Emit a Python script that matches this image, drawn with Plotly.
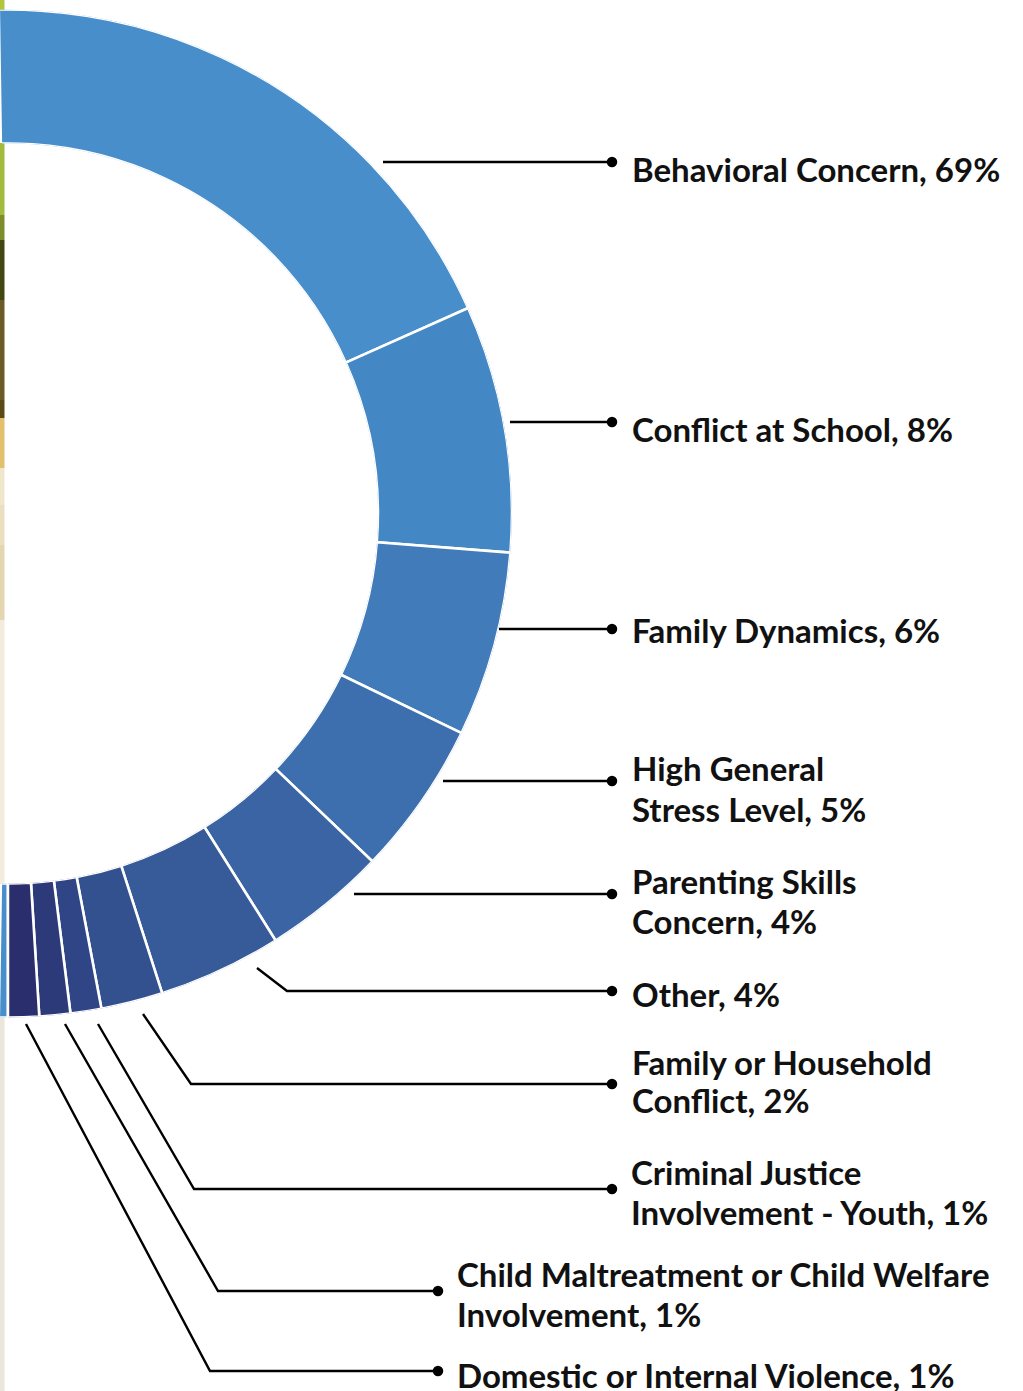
import plotly.graph_objects as go

# ---- data -------------------------------------------------------------
label_lines = [
    ["Behavioral Concern"],
    ["Conflict at School"],
    ["Family Dynamics"],
    ["High General", "Stress Level"],
    ["Parenting Skills", "Concern"],
    ["Other"],
    ["Family or Household", "Conflict"],
    ["Criminal Justice", "Involvement - Youth"],
    ["Child Maltreatment or Child Welfare", "Involvement"],
    ["Domestic or Internal Violence"],
]
percent = [69, 8, 6, 5, 4, 4, 2, 1, 1, 1]
slice_colors = ["#488ecb", "#4487c5", "#417bb9", "#3d6fae", "#3a64a3",
                "#375a99", "#33508f", "#304585", "#2d3a7a", "#2b2e6d"]

# ---- page geometry ------------------------------------------------------
W, H = 1023, 1391
CY, R = 513.5, 504          # ring centre (y) and outer radius, px
HOLE = 0.734
START = 180                 # first slice starts at 6 o'clock, clockwise

total = sum(percent)
spans = [p / total * 360 for p in percent]
mids, acc = [], START
for s in spans:
    mids.append(acc + s / 2)
    acc += s

# leader polylines (px)
leaders = [
    [(383, 162), (612, 162)],
    [(510, 422), (612, 422)],
    [(499, 629), (612, 629)],
    [(443, 781), (612, 781)],
    [(354, 894), (612, 894)],
    [(257, 968), (287, 991), (612, 991)],
    [(143, 1014), (191, 1084), (612, 1084)],
    [(98, 1024), (194, 1189), (612, 1189)],
    [(65, 1024), (218, 1291), (438, 1291)],
    [(26, 1024), (210, 1371), (438, 1371)],
]
# label x (px) and the vertical centre of each text line (px)
label_x = [630, 630, 630, 630, 630, 630, 630, 629, 455, 455]
line_y = [[169], [428.5], [630], [768, 809], [881, 921], [993.5],
          [1061.5, 1099.5], [1172, 1211.5], [1274, 1313.5], [1374.5]]

fig = go.Figure()

# donut ring as polar bars
fig.add_trace(go.Barpolar(
    r=[1] * len(percent),
    base=0,
    theta=mids,
    width=spans,
    marker=dict(color=slice_colors, line=dict(color="white", width=2.6)),
    hoverinfo="skip",
    showlegend=False,
))

# leader lines with end dots
for pts in leaders:
    xs = [p[0] for p in pts]
    ys = [p[1] for p in pts]
    fig.add_trace(go.Scatter(
        x=xs, y=ys, mode="lines",
        line=dict(color="#000000", width=2.4),
        hoverinfo="skip", showlegend=False, xaxis="x", yaxis="y",
    ))
    fig.add_trace(go.Scatter(
        x=[xs[-1]], y=[ys[-1]], mode="markers",
        marker=dict(color="#000000", size=10.5),
        hoverinfo="skip", showlegend=False, xaxis="x", yaxis="y",
    ))

# labels, one annotation per text line; the value closes the last line
for lines, p, lx, ys in zip(label_lines, percent, label_x, line_y):
    for i, (txt, ly) in enumerate(zip(lines, ys)):
        if i == len(lines) - 1:
            txt = f"{txt}, {p}%"
        fig.add_annotation(
            x=lx, y=ly, xref="x", yref="y", text=txt, showarrow=False,
            xanchor="left", yanchor="middle", align="left",
            font=dict(family="Lato", size=33, color="#111111", weight="bold"),
        )

# thin photographic strip on the left edge (only where the ring leaves it visible)
strip = [
    (0, 10, "#b3c53e"), (143, 215, "#a2bb3c"), (215, 240, "#7f8c2c"),
    (240, 300, "#424612"), (300, 400, "#6a5a26"), (400, 418, "#5a4a18"),
    (418, 468, "#e3bf6e"), (468, 505, "#f0e6cc"), (505, 545, "#ebdfc2"),
    (545, 620, "#e4d6b0"), (620, 884, "#f3ecdc"), (1017, 1391, "#ebe6da"),
]
for y0, y1, c in strip:
    fig.add_shape(type="rect", xref="x", yref="y", x0=0, x1=4.5, y0=y0, y1=y1,
                  fillcolor=c, line=dict(width=0), layer="below")

fig.update_layout(
    width=W, height=H,
    margin=dict(l=0, r=0, t=0, b=0),
    paper_bgcolor="white", plot_bgcolor="rgba(0,0,0,0)",
    xaxis=dict(range=[0, W], visible=False, fixedrange=True, domain=[0, 1]),
    yaxis=dict(range=[H, 0], visible=False, fixedrange=True, domain=[0, 1]),
    polar=dict(
        domain=dict(x=[0, 512 / W], y=[1 - (CY + R) / H, 1 - (CY - R) / H]),
        sector=[-90.9, 90.9],
        hole=HOLE,
        bgcolor="rgba(0,0,0,0)",
        radialaxis=dict(visible=False, range=[0, 1], showgrid=False),
        angularaxis=dict(visible=False, direction="clockwise", rotation=90,
                         showgrid=False),
    ),
    showlegend=False,
)

fig.write_html("out.html")
